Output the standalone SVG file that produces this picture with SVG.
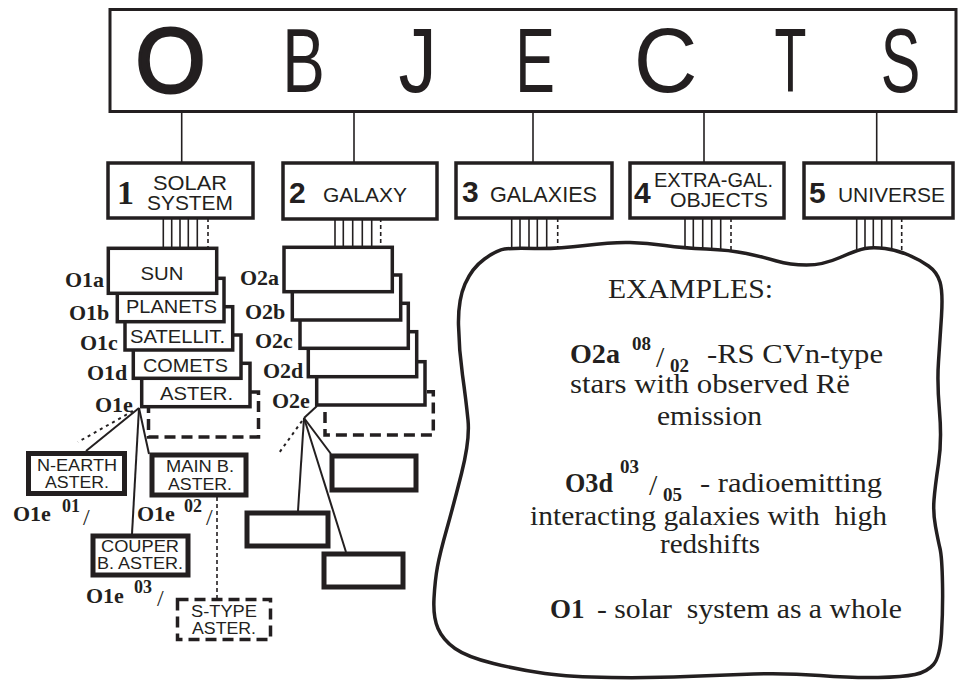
<svg xmlns="http://www.w3.org/2000/svg" width="961" height="683" viewBox="0 0 961 683">
<style>
.box{fill:#fff;stroke:#231f20;stroke-width:3.5}
.thick{fill:#fff;stroke:#231f20;stroke-width:5}
.dbox{fill:#fff;stroke:#231f20;stroke-width:3.5;stroke-dasharray:11,6}
.ln{stroke:#231f20;stroke-width:1.6;fill:none}
.dl{stroke:#231f20;stroke-width:1.6;fill:none;stroke-dasharray:4,3}
.dot{stroke:#231f20;stroke-width:2;fill:none;stroke-dasharray:3,4}
.cn{stroke:#231f20;stroke-width:2;fill:none}
.big{font-family:"Liberation Sans",Arial,sans-serif;font-size:90px;fill:#231f20;text-anchor:middle}
.sans{font-family:"Liberation Sans",Arial,sans-serif;fill:#231f20}
.num{font-family:"Liberation Sans",Arial,sans-serif;font-weight:bold;font-size:30px;fill:#231f20}
.lab{font-family:"Liberation Serif","Times New Roman",serif;font-weight:bold;font-size:22px;fill:#231f20}
.sup{font-family:"Liberation Serif","Times New Roman",serif;font-weight:bold;font-size:18px;fill:#231f20}
.sl{font-family:"Liberation Serif","Times New Roman",serif;font-size:24px;fill:#231f20}
.ex{font-family:"Liberation Serif","Times New Roman",serif;font-size:27px;fill:#231f20}
.exb{font-family:"Liberation Serif","Times New Roman",serif;font-size:27px;font-weight:bold;fill:#231f20}
.exs{font-family:"Liberation Serif","Times New Roman",serif;font-size:19px;font-weight:bold;fill:#231f20}
.bt{font-family:"Liberation Sans",Arial,sans-serif;font-size:19px;fill:#231f20;text-anchor:middle}
.st{font-family:"Liberation Sans",Arial,sans-serif;font-size:16px;fill:#231f20;text-anchor:middle}
</style>

<g id="connectors">
  <line class="ln" x1="181.7" y1="112" x2="181.7" y2="163"/>
  <line class="ln" x1="354" y1="112" x2="354" y2="163"/>
  <line class="ln" x1="533" y1="112" x2="533" y2="163"/>
  <line class="ln" x1="704" y1="112" x2="704" y2="163"/>
  <line class="ln" x1="876.7" y1="112" x2="876.7" y2="163"/>
  <g>
    <line class="ln" x1="163.3" y1="218" x2="163.3" y2="249"/>
    <line class="ln" x1="171.7" y1="218" x2="171.7" y2="249"/>
    <line class="ln" x1="180" y1="218" x2="180" y2="249"/>
    <line class="ln" x1="188.3" y1="218" x2="188.3" y2="249"/>
    <line class="ln" x1="197.3" y1="218" x2="197.3" y2="249"/>
    <line class="dl" x1="208" y1="218" x2="208" y2="249"/>
  </g>
  <g>
    <line class="ln" x1="335" y1="218" x2="335" y2="248"/>
    <line class="ln" x1="343.3" y1="218" x2="343.3" y2="248"/>
    <line class="ln" x1="352.7" y1="218" x2="352.7" y2="248"/>
    <line class="ln" x1="362.3" y1="218" x2="362.3" y2="248"/>
    <line class="ln" x1="371.7" y1="218" x2="371.7" y2="248"/>
    <line class="dl" x1="380.7" y1="218" x2="380.7" y2="248"/>
  </g>
  <g>
    <line class="ln" x1="511.7" y1="218" x2="511.7" y2="254"/>
    <line class="ln" x1="520" y1="218" x2="520" y2="254"/>
    <line class="ln" x1="529" y1="218" x2="529" y2="254"/>
    <line class="ln" x1="537.3" y1="218" x2="537.3" y2="254"/>
    <line class="ln" x1="546.7" y1="218" x2="546.7" y2="254"/>
    <line class="dl" x1="557.7" y1="218" x2="557.7" y2="254"/>
  </g>
  <g>
    <line class="ln" x1="685" y1="218" x2="685" y2="256"/>
    <line class="ln" x1="693.3" y1="218" x2="693.3" y2="256"/>
    <line class="ln" x1="702.7" y1="218" x2="702.7" y2="256"/>
    <line class="ln" x1="711.7" y1="218" x2="711.7" y2="256"/>
    <line class="ln" x1="720.7" y1="218" x2="720.7" y2="256"/>
    <line class="dl" x1="731" y1="218" x2="731" y2="256"/>
  </g>
  <g>
    <line class="ln" x1="856.7" y1="218" x2="856.7" y2="256"/>
    <line class="ln" x1="865" y1="218" x2="865" y2="256"/>
    <line class="ln" x1="873.3" y1="218" x2="873.3" y2="256"/>
    <line class="ln" x1="881.7" y1="218" x2="881.7" y2="256"/>
    <line class="ln" x1="891.7" y1="218" x2="891.7" y2="256"/>
    <line class="dl" x1="901.7" y1="218" x2="901.7" y2="256"/>
  </g>
  <line class="cn" x1="139" y1="408" x2="86" y2="451"/>
  <line class="dot" x1="133" y1="411" x2="78" y2="442"/>
  <line class="cn" x1="139" y1="408" x2="132" y2="534"/>
  <line class="cn" x1="139" y1="408" x2="149" y2="454"/>
  <line class="dl" x1="217" y1="497" x2="217" y2="598"/>
  <line class="cn" x1="317" y1="406" x2="304" y2="418"/>
  <line class="dot" x1="302" y1="421" x2="279" y2="453"/>
  <line class="cn" x1="304" y1="418" x2="298" y2="511"/>
  <line class="cn" x1="304" y1="418" x2="346" y2="552"/>
  <line class="cn" x1="304" y1="418" x2="331" y2="454"/>
</g>

<g id="objects">
  <rect class="box" x="110" y="9.5" width="846" height="102" style="stroke-width:3"/>
  <text class="big" x="170.5" y="92" style="stroke:#231f20;stroke-width:3">O</text>
  <text class="big" transform="translate(303.5,92) scale(0.71,1)">B</text>
  <text class="big" transform="translate(417.5,92) scale(0.85,1)">J</text>
  <text class="big" transform="translate(535,92) scale(0.66,1)">E</text>
  <text class="big" transform="translate(665.5,92) scale(0.98,1)">C</text>
  <text class="big" transform="translate(790.5,92) scale(0.58,1)">T</text>
  <text class="big" transform="translate(900.5,92) scale(0.66,1)">S</text>
</g>

<g id="cat1">
  <rect class="box" x="108" y="163" width="145" height="55"/>
  <text x="117" y="204" style="font-family:'Liberation Serif',serif;font-weight:bold;font-size:34px;fill:#231f20">1</text>
  <text class="sans" x="190" y="190" font-size="21" text-anchor="middle" textLength="74" lengthAdjust="spacingAndGlyphs">SOLAR</text>
  <text class="sans" x="190" y="210" font-size="21" text-anchor="middle" textLength="86" lengthAdjust="spacingAndGlyphs">SYSTEM</text>
</g>
<g id="cat2">
  <rect class="box" x="283" y="163" width="154" height="56"/>
  <text class="num" x="289" y="203">2</text>
  <text class="sans" x="323" y="202" font-size="21" textLength="84" lengthAdjust="spacingAndGlyphs">GALAXY</text>
</g>
<g id="cat3">
  <rect class="box" x="456" y="163" width="156" height="55"/>
  <text class="num" x="462" y="202">3</text>
  <text class="sans" x="490" y="202" font-size="22" textLength="107" lengthAdjust="spacingAndGlyphs">GALAXIES</text>
</g>
<g id="cat4">
  <rect class="box" x="630" y="163" width="154" height="55"/>
  <text class="num" x="634" y="203">4</text>
  <text class="sans" x="654" y="187" font-size="21" textLength="119" lengthAdjust="spacingAndGlyphs">EXTRA-GAL.</text>
  <text class="sans" x="670" y="207" font-size="21" textLength="98" lengthAdjust="spacingAndGlyphs">OBJECTS</text>
</g>
<g id="cat5">
  <rect class="box" x="804" y="163" width="149" height="55"/>
  <text class="num" x="809" y="203">5</text>
  <text class="sans" x="838" y="202" font-size="21" textLength="107" lengthAdjust="spacingAndGlyphs">UNIVERSE</text>
</g>

<g id="solar-stack">
  <rect class="dbox" x="148.5" y="392" width="110" height="45"/>
  <g id="o1e"><rect class="box" x="141.7" y="363.3" width="108.3" height="43.4"/><text class="bt" x="196.5" y="400" textLength="73" lengthAdjust="spacingAndGlyphs">ASTER.</text></g>
  <g id="o1d"><rect class="box" x="133.3" y="335" width="107.7" height="43.3"/><text class="bt" x="185.5" y="372" textLength="85" lengthAdjust="spacingAndGlyphs">COMETS</text></g>
  <g id="o1c"><rect class="box" x="125" y="306.7" width="107.7" height="43.3"/><text class="bt" x="177.5" y="343" textLength="95" lengthAdjust="spacingAndGlyphs">SATELLIT.</text></g>
  <g id="o1b"><rect class="box" x="117.3" y="278.3" width="106.7" height="43.4"/><text class="bt" x="171.5" y="313" textLength="91" lengthAdjust="spacingAndGlyphs">PLANETS</text></g>
  <g id="o1a"><rect class="box" x="108.3" y="248.3" width="108.4" height="45"/><text class="bt" x="162" y="280" textLength="43" lengthAdjust="spacingAndGlyphs">SUN</text></g>
  <text class="lab" x="65" y="287">O1a</text>
  <text class="lab" x="69" y="320">O1b</text>
  <text class="lab" x="80" y="350">O1c</text>
  <text class="lab" x="87" y="380">O1d</text>
  <text class="lab" x="95" y="412">O1e</text>
</g>

<g id="galaxy-stack">
  <rect class="dbox" x="325" y="391.7" width="108.3" height="43.3"/>
  <rect class="box" x="316.7" y="361.7" width="108.3" height="43.3"/>
  <rect class="box" x="308.3" y="331.7" width="108.4" height="45"/>
  <rect class="box" x="300" y="303.3" width="108.3" height="45"/>
  <rect class="box" x="292.3" y="275" width="108.4" height="45"/>
  <rect class="box" x="284" y="247.3" width="108.3" height="44.4"/>
  <text class="lab" x="240" y="285">O2a</text>
  <text class="lab" x="245" y="319">O2b</text>
  <text class="lab" x="255" y="348">O2c</text>
  <text class="lab" x="263" y="378">O2d</text>
  <text class="lab" x="272" y="408">O2e</text>
</g>

<g id="n-earth">
  <rect class="thick" x="28.5" y="453.5" width="96" height="40"/>
  <text class="st" x="77" y="471" textLength="80" lengthAdjust="spacingAndGlyphs">N-EARTH</text>
  <text class="st" x="77" y="488" textLength="64" lengthAdjust="spacingAndGlyphs">ASTER.</text>
  <text class="lab" x="13" y="521">O1e</text>
  <text class="sup" x="62" y="512">01</text>
  <text class="sl" x="83" y="525">/</text>
</g>
<g id="main-b">
  <rect class="thick" x="152" y="455" width="94" height="40"/>
  <text class="st" x="200" y="472" textLength="68" lengthAdjust="spacingAndGlyphs">MAIN B.</text>
  <text class="st" x="200" y="490" textLength="64" lengthAdjust="spacingAndGlyphs">ASTER.</text>
  <text class="lab" x="137" y="521">O1e</text>
  <text class="sup" x="184" y="512">02</text>
  <text class="sl" x="206" y="525">/</text>
</g>
<g id="couper">
  <rect class="thick" x="93" y="536" width="95" height="39"/>
  <text class="st" x="140" y="552" textLength="78" lengthAdjust="spacingAndGlyphs">COUPER</text>
  <text class="st" x="140" y="569" textLength="86" lengthAdjust="spacingAndGlyphs">B. ASTER.</text>
  <text class="lab" x="86" y="603">O1e</text>
  <text class="sup" x="134" y="593">03</text>
  <text class="sl" x="157" y="606">/</text>
</g>
<g id="s-type">
  <rect class="dbox" x="177.5" y="599.5" width="93" height="40"/>
  <text class="st" x="224" y="617" textLength="66" lengthAdjust="spacingAndGlyphs">S-TYPE</text>
  <text class="st" x="224" y="634" textLength="64" lengthAdjust="spacingAndGlyphs">ASTER.</text>
</g>

<g id="g1"><rect class="thick" x="332" y="456" width="84" height="34"/></g>
<g id="g2"><rect class="thick" x="247" y="513" width="81" height="33"/></g>
<g id="g3"><rect class="thick" x="324" y="554" width="79" height="33"/></g>

<g id="examples">
  <path fill="#fff" stroke="#231f20" stroke-width="3.5" d="M465,284 Q472,268 484.5,259 Q497,250 504.5,249 Q512,248 534.5,248.5 Q557,249 585,245.5 Q613,242 630,242.5 Q647,243 665,245.5 Q683,248 706.5,249 Q730,250 746.5,253.5 Q763,257 776.5,261 Q790,265 806.5,265 Q823,265 840,257.5 Q857,250 865,248.5 Q873,247 885,248.5 Q897,250 908.5,255 Q920,260 928.5,266 Q937,272 940,282 Q943,292 941.5,316 Q940,340 938.5,361.5 Q937,383 939.5,411.5 Q942,440 938.5,463.5 Q935,487 934,500 Q933,513 935.5,526.5 Q938,540 940,548.5 Q942,557 942.5,583.5 Q943,610 941.5,633.5 Q940,657 933.5,664.5 Q927,672 915,674.5 Q903,677 878,677.5 Q853,678 820,675.5 Q787,673 753.5,674 Q720,675 686.5,676.5 Q653,678 611.5,677.5 Q570,677 545,673.5 Q520,670 493.5,663.5 Q467,657 455,648.5 Q443,640 438,628.5 Q433,617 434,598.5 Q435,580 437.5,566.5 Q440,553 446.5,530 Q453,507 461.5,473.5 Q470,440 468,420 Q466,400 462.5,375 Q459,350 458.5,325 Q458,300 465,284 Z"/>
  <text class="ex" x="608" y="298" textLength="165" lengthAdjust="spacingAndGlyphs">EXAMPLES:</text>
  <text class="exb" x="570" y="363" textLength="50" lengthAdjust="spacingAndGlyphs">O2a</text>
  <text class="exs" x="632" y="350">08</text>
  <text class="ex" x="656" y="367" style="font-size:30px">/</text>
  <text class="exs" x="670" y="372">02</text>
  <text class="ex" x="707" y="363" textLength="176" lengthAdjust="spacingAndGlyphs">-RS CVn-type</text>
  <text class="ex" x="570" y="393" textLength="280" lengthAdjust="spacingAndGlyphs">stars with observed Rë</text>
  <text class="ex" x="657" y="425" textLength="105" lengthAdjust="spacingAndGlyphs">emission</text>
  <text class="exb" x="565" y="492" textLength="48" lengthAdjust="spacingAndGlyphs">O3d</text>
  <text class="exs" x="620" y="473">03</text>
  <text class="ex" x="649" y="495" style="font-size:30px">/</text>
  <text class="exs" x="663" y="501">05</text>
  <text class="ex" x="700" y="492" textLength="182" lengthAdjust="spacingAndGlyphs">- radioemitting</text>
  <text class="ex" x="530" y="525" textLength="357" lengthAdjust="spacingAndGlyphs" xml:space="preserve">interacting galaxies with  high</text>
  <text class="ex" x="660" y="553" textLength="100" lengthAdjust="spacingAndGlyphs">redshifts</text>
  <text class="exb" x="550" y="618">O1</text>
  <text class="ex" x="597" y="618" textLength="305" lengthAdjust="spacingAndGlyphs" xml:space="preserve">- solar  system as a whole</text>
</g>
</svg>
